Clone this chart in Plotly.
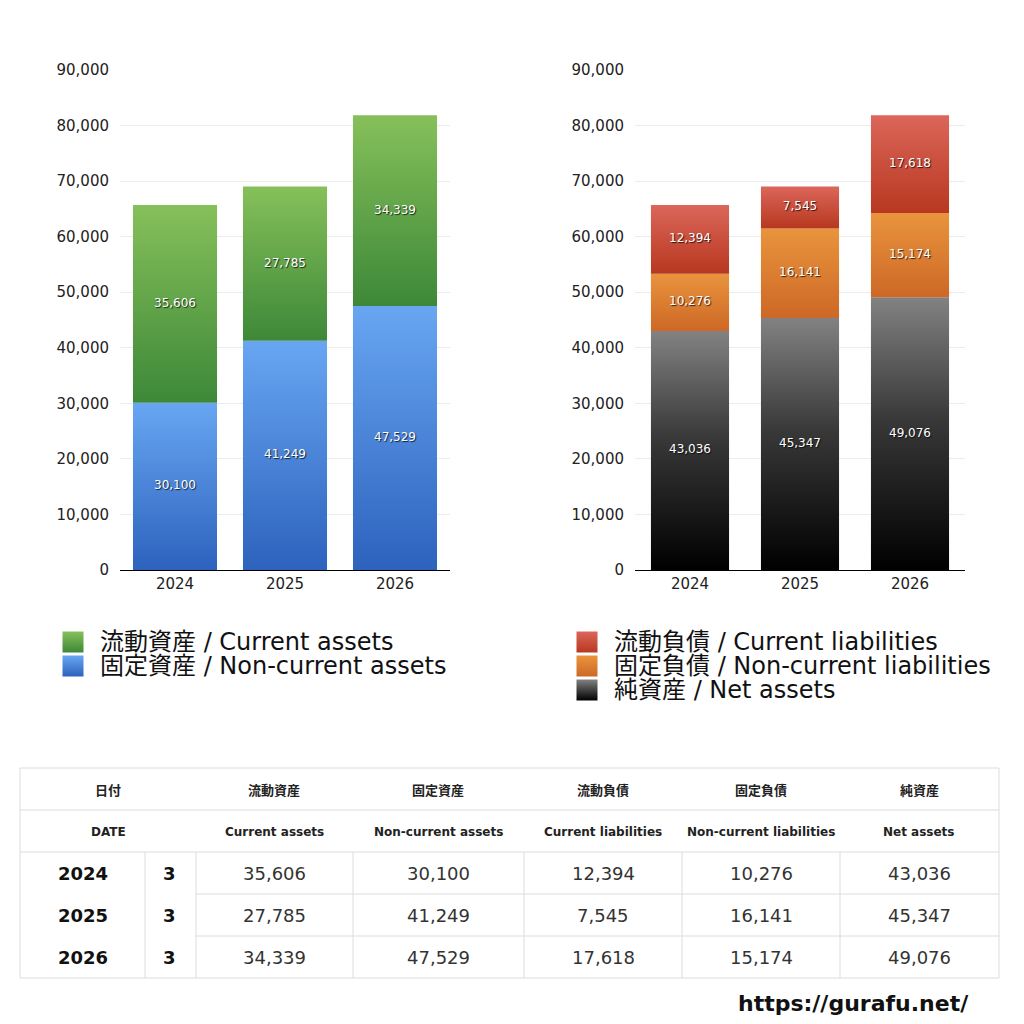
import plotly.graph_objects as go

# ---------------- data ----------------
years = ["2024", "2025", "2026"]
months = ["3", "3", "3"]
current_assets = [35606, 27785, 34339]
noncurrent_assets = [30100, 41249, 47529]
current_liabilities = [12394, 7545, 17618]
noncurrent_liabilities = [10276, 16141, 15174]
net_assets = [43036, 45347, 49076]

y_ticks = [0, 10000, 20000, 30000, 40000, 50000, 60000, 70000, 80000, 90000]

names_ja = ["流動資産", "固定資産", "流動負債", "固定負債", "純資産"]
names_en = ["Current assets", "Non-current assets", "Current liabilities",
            "Non-current liabilities", "Net assets"]

FONT = "DejaVu Sans, Noto Sans CJK JP"
W, H = 1024, 1024

# gradient colours as colorscales (bottom -> top)
GREEN = [[0, "#3d8838"], [1, "#86c05a"]]
BLUE = [[0, "#2d62bd"], [1, "#68a6f2"]]
RED = [[0, "#b8381f"], [1, "#db665a"]]
ORANGE = [[0, "#cd6826"], [1, "#e9943d"]]
BLACK = [[0, "#000000"], [0.55, "#383838"], [1, "#828282"]]

fig = go.Figure()


def add_stack(series, colors, xa, ya, width):
    base = [0] * len(years)
    for vals, col in zip(series, colors):
        for i, v in enumerate(vals):
            b, t = base[i], base[i] + v
            fig.add_trace(go.Scatter(
                x=[i - width / 2, i + width / 2, i + width / 2, i - width / 2, i - width / 2],
                y=[b, b, t, t, b],
                mode="lines", fill="toself",
                fillgradient=dict(type="vertical", colorscale=col),
                line=dict(width=0, color="rgba(0,0,0,0)"),
                xaxis=xa, yaxis=ya, showlegend=False, hoverinfo="skip"))
        fig.add_trace(go.Scatter(
            x=list(range(len(years))),
            y=[base[i] + vals[i] / 2 for i in range(len(years))],
            text=[f"{v:,}" for v in vals],
            mode="text",
            textfont=dict(family=FONT, size=12, color="white",
                          shadow="1px 1px 1px rgba(0,0,0,0.75)"),
            xaxis=xa, yaxis=ya, showlegend=False, hoverinfo="skip"))
        base = [base[i] + vals[i] for i in range(len(years))]


add_stack([noncurrent_assets, current_assets], [BLUE, GREEN], "x", "y", 0.764)
add_stack([net_assets, noncurrent_liabilities, current_liabilities],
          [BLACK, ORANGE, RED], "x2", "y2", 0.71)


def px(x):
    return x / W


def py(y):
    return 1 - y / H


# ---------------- legend swatches (gradient squares on a full-page axis) ----
legend_left = [(GREEN, 0), (BLUE, 1)]
legend_right = [(RED, 2), (ORANGE, 3), (BLACK, 4)]
annotations = []


def add_legend(items, x_sq, x_txt, y0):
    for k, (col, idx) in enumerate(items):
        yc = y0 + k * 24
        fig.add_trace(go.Scatter(
            x=[x_sq + 10], y=[yc], mode="markers",
            marker=dict(symbol="square", size=21, color=col[-1][1],
                        gradient=dict(type="vertical", color=col[0][1]),
                        line=dict(width=0)),
            xaxis="x3", yaxis="y3", showlegend=False, hoverinfo="skip",
            cliponaxis=False))
        annotations.append(dict(xref="paper", yref="paper", x=px(x_txt), y=py(yc),
                                xanchor="left", yanchor="middle", showarrow=False,
                                text=f"{names_ja[idx]} / {names_en[idx]}",
                                font=dict(family=FONT, size=24, color="#111")))


add_legend(legend_left, 63, 98, 642)
add_legend(legend_right, 577, 612, 642)

xaxis_common = dict(range=[-0.5, 2.5], tickvals=[0, 1, 2], ticktext=years,
                    showgrid=False, zeroline=False, showline=True,
                    linecolor="#000000", linewidth=1, ticks="", automargin=False,
                    tickfont=dict(family=FONT, size=15, color="#222"),
                    fixedrange=True)
yaxis_common = dict(range=[0, 90000], tickvals=y_ticks, tickformat=",",
                    showgrid=True, gridcolor="#ececec", gridwidth=1,
                    zeroline=False, showline=False, ticks="", automargin=False,
                    ticklabelstandoff=10,
                    tickfont=dict(family=FONT, size=15, color="#222"),
                    fixedrange=True)

fig.update_layout(
    template="none",
    width=W, height=H,
    margin=dict(l=0, r=0, t=0, b=0, pad=0, autoexpand=False),
    paper_bgcolor="white", plot_bgcolor="rgba(0,0,0,0)",
    showlegend=False,
    xaxis=dict(domain=[px(120), px(450)], anchor="y", **xaxis_common),
    yaxis=dict(domain=[py(570), py(70)], anchor="x", **yaxis_common),
    xaxis2=dict(domain=[px(635), px(965)], anchor="y2", **xaxis_common),
    yaxis2=dict(domain=[py(570), py(70)], anchor="x2", **yaxis_common),
    xaxis3=dict(domain=[0, 1], range=[0, W], visible=False, fixedrange=True,
                anchor="y3", showgrid=False, zeroline=False),
    yaxis3=dict(domain=[0, 1], range=[H, 0], visible=False, fixedrange=True,
                anchor="x3", showgrid=False, zeroline=False),
)

shapes = []

# ---------------- table ----------------
LC = "#dcdcdc"


def hline(x0, x1, y):
    shapes.append(dict(type="line", xref="paper", yref="paper",
                       x0=px(x0), x1=px(x1), y0=py(y), y1=py(y),
                       line=dict(color=LC, width=1)))


def vline(x, y0, y1):
    shapes.append(dict(type="line", xref="paper", yref="paper",
                       x0=px(x), x1=px(x), y0=py(y0), y1=py(y1),
                       line=dict(color=LC, width=1)))


T_L, T_R = 20, 999
hline(T_L, T_R, 768)
hline(T_L, T_R, 810)
hline(T_L, T_R, 852)
hline(196, T_R, 894)
hline(196, T_R, 936)
hline(T_L, T_R, 978)
vline(T_L, 768, 978)
vline(T_R, 768, 978)
for x in [145, 196, 353, 524, 682, 840]:
    vline(x, 852, 978)


def txt(x, y, s, size, weight=400, color="#222"):
    annotations.append(dict(xref="paper", yref="paper", x=px(x), y=py(y),
                            xanchor="center", yanchor="middle", showarrow=False,
                            text=s,
                            font=dict(family=FONT, size=size, color=color, weight=weight)))


col_centers = [274, 438, 603, 761, 919]
txt(108, 790, "日付", 13, 700)
txt(108, 832, "DATE", 12, 700)
for c, ja, en in zip(col_centers, names_ja, names_en):
    txt(c, 790, ja, 13, 700)
    txt(c, 832, en, 12, 700)

table_cols = [current_assets, noncurrent_assets, current_liabilities,
              noncurrent_liabilities, net_assets]
for r in range(len(years)):
    yc = 873 + 42 * r
    txt(83, yc, years[r], 18, 700, "#111")
    txt(169, yc, months[r], 18, 700, "#111")
    for c, vals in zip(col_centers, table_cols):
        txt(c, yc, f"{vals[r]:,}", 18, 400, "#333")

# ---------------- footer ----------------
annotations.append(dict(xref="paper", yref="paper", x=px(853), y=py(1003),
                        xanchor="center", yanchor="middle", showarrow=False,
                        text="https://gurafu.net/",
                        font=dict(family=FONT, size=22, color="#111", weight=700)))

fig.update_layout(shapes=shapes, annotations=annotations)

fig.write_html("out.html")
